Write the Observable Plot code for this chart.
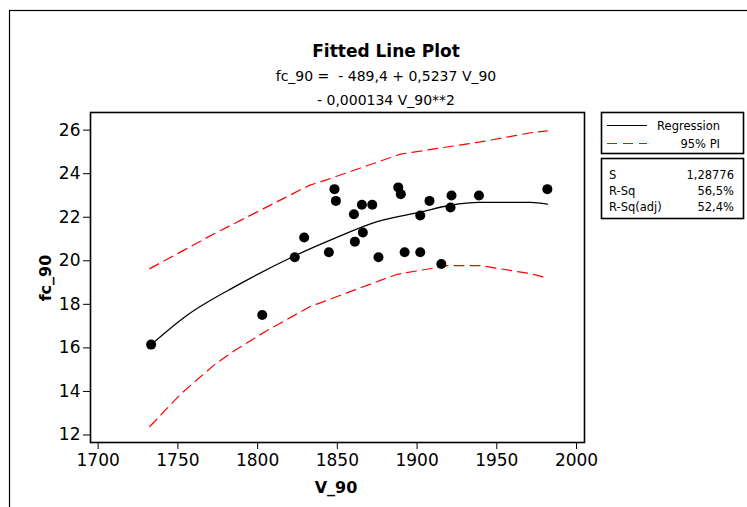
<!DOCTYPE html>
<html>
<head>
<meta charset="utf-8">
<script src="https://cdn.jsdelivr.net/npm/d3@7"></script>
<script src="https://cdn.jsdelivr.net/npm/@observablehq/plot@0.6"></script>
<style>
  html, body { margin: 0; padding: 0; background: #fff; }
  #chart svg { display: block; }
</style>
</head>
<body>
<div id="chart"></div>
<script>
// ---- data ----
const V90  = [1733.2, 1802.9, 1823.3, 1829.2, 1844.7, 1848.2, 1849.1, 1860.4, 1861.0, 1865.4, 1866.0, 1871.9,
              1875.8, 1888.2, 1889.8, 1892.2, 1902.0, 1902.0, 1907.8, 1915.2, 1921.0, 1921.6, 1938.8, 1981.7];
const FC90 = [16.15, 17.51, 20.16, 21.07, 20.39, 23.29, 22.75, 22.14, 20.88, 22.57, 21.30, 22.57,
              20.16, 23.37, 23.06, 20.39, 22.08, 20.39, 22.75, 19.85, 22.45, 23.00, 23.00, 23.29];

const fitV  = [1733.2, 1755.8, 1787.2, 1822.7, 1847.8, 1875.0, 1902.2, 1921.0, 1938.8, 1971.2, 1981.7];
const fitFC = [16.15, 17.50, 18.87, 20.21, 21.02, 21.80, 22.24, 22.55, 22.68, 22.68, 22.60];

const piUpV  = [1732.4, 1773.0, 1832.0, 1843.7, 1889.7, 1939.8, 1971.2, 1981.7];
const piUpFC = [19.64, 21.25, 23.45, 23.73, 24.90, 25.46, 25.88, 25.97];

const piLoV  = [1732.4, 1751.9, 1762.7, 1773.6, 1786.0, 1806.0, 1833.0, 1877.0, 1887.6, 1919.4, 1939.8, 1971.2, 1981.7];
const piLoFC = [12.39, 13.89, 14.58, 15.27, 15.90, 16.80, 17.90, 19.10, 19.38, 19.78, 19.78, 19.41, 19.21];

const xTicks = [1700, 1750, 1800, 1850, 1900, 1950, 2000];
const yTicks = [12, 14, 16, 18, 20, 22, 24, 26];

const titleText = "Fitted Line Plot";
const eqLines = ["fc_90 =  - 489,4 + 0,5237 V_90", "- 0,000134 V_90**2"];
const xTitle = "V_90";
const yTitle = "fc_90";
const legendItems = ["Regression", "95% PI"];
const statLabels = ["S", "R-Sq", "R-Sq(adj)"];
const statValues = ["1,28776", "56,5%", "52,4%"];

// ---- tables ----
const points = V90.map((v, i) => ({v, fc: FC90[i]}));
const fit = fitV.map((v, i) => ({v, fc: fitFC[i]}));
const up = piUpV.map((v, i) => ({v, fc: piUpFC[i]}));
const lo = piLoV.map((v, i) => ({v, fc: piLoFC[i]}));

const FONT = "DejaVu Sans";
const W = 747, H = 507;
const mL = 90, mR = W - 584, mT = 112, mB = H - 442;

const plot = Plot.plot({
  width: W,
  height: H,
  marginLeft: mL,
  marginRight: mR,
  marginTop: mT,
  marginBottom: mB,
  style: {fontFamily: FONT, fontSize: "17px", color: "#000", background: "#fff"},
  x: {domain: [1695.2, 2005.0], label: null},
  y: {domain: [11.655, 26.81], label: null},
  marks: [
    Plot.line(up, {x: "v", y: "fc", stroke: "#ff0000", strokeWidth: 1.2, strokeDasharray: "10,6"}),
    Plot.line(lo, {x: "v", y: "fc", stroke: "#ff0000", strokeWidth: 1.2, strokeDasharray: "10,6"}),
    Plot.line(fit, {x: "v", y: "fc", stroke: "#000", strokeWidth: 1.3, curve: "monotone-x"}),
    Plot.dot(points, {x: "v", y: "fc", r: 5, fill: "#000", stroke: "none"}),
    Plot.axisX({ticks: xTicks, tickSize: 7, tickPadding: 4, tickFormat: d => String(d), fontSize: 17, label: null}),
    Plot.axisY({ticks: yTicks, tickSize: 7, tickPadding: 3, tickFormat: d => String(d), fontSize: 17, label: null}),
    Plot.frame({stroke: "#000", strokeWidth: 1.6})
  ]
});

document.getElementById("chart").appendChild(plot);

// ---- annotations ----
const svg = d3.select(plot);
const txt = (x, y, s, opts = {}) => svg.append("text")
  .attr("x", x).attr("y", y)
  .attr("text-anchor", opts.anchor || "start")
  .attr("font-family", FONT)
  .attr("font-size", opts.size || 12)
  .attr("font-weight", opts.bold ? "bold" : "normal")
  .attr("fill", "#000")
  .attr("xml:space", "preserve")
  .style("white-space", "pre")
  .text(s);

// outer border
svg.append("rect").attr("x", 9.5).attr("y", 10.5).attr("width", 900).attr("height", 700)
  .attr("fill", "none").attr("stroke", "#000").attr("stroke-width", 1.2);

const cx = 386;
txt(cx, 57, titleText, {anchor: "middle", size: 17, bold: true});
eqLines.forEach((t, i) => txt(cx, 81 + i * 23.5, t, {anchor: "middle", size: 14}));

txt(336, 493, xTitle, {anchor: "middle", size: 16, bold: true});
svg.append("text").attr("transform", "translate(51,278) rotate(-90)").attr("text-anchor", "middle")
  .attr("font-family", FONT).attr("font-weight", "bold").attr("font-size", 16).text(yTitle);

// legend box 1
const lx = 601, lw = 142;
svg.append("rect").attr("x", lx + 0.5).attr("y", 112.5).attr("width", lw).attr("height", 41)
  .attr("fill", "#fff").attr("stroke", "#000").attr("stroke-width", 1.6);
svg.append("line").attr("x1", 607).attr("x2", 647).attr("y1", 125.5).attr("y2", 125.5)
  .attr("stroke", "#000").attr("stroke-width", 1.2);
svg.append("line").attr("x1", 607).attr("x2", 647).attr("y1", 143.5).attr("y2", 143.5)
  .attr("stroke", "#ff0000").attr("stroke-width", 1.2).attr("stroke-dasharray", "10,6");
legendItems.forEach((t, i) => txt(720, 129.5 + i * 18, t, {anchor: "end", size: 11.5}));

// legend box 2
svg.append("rect").attr("x", lx + 0.5).attr("y", 158.5).attr("width", lw).attr("height", 60)
  .attr("fill", "#fff").attr("stroke", "#000").attr("stroke-width", 1.6);
statLabels.forEach((t, i) => {
  txt(609, 179 + i * 16, t, {size: 11.5});
  txt(734, 179 + i * 16, statValues[i], {anchor: "end", size: 11.5});
});
</script>
</body>
</html>
